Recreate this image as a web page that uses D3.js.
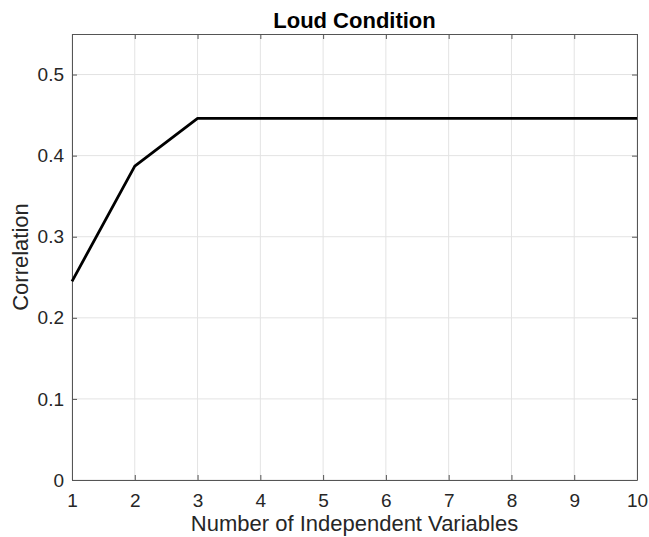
<!DOCTYPE html>
<html>
<head>
<meta charset="utf-8">
<script src="https://cdn.jsdelivr.net/npm/d3@7"></script>
<style>
  body { margin: 0; background: #fff; }
  text { font-family: "Liberation Sans", Arial, sans-serif; }
</style>
</head>
<body>
<svg width="649" height="537"></svg>
<script>
// data
const numVars = [1, 2, 3, 4, 5, 6, 7, 8, 9, 10];
const correlation = [0.245, 0.387, 0.446, 0.446, 0.446, 0.446, 0.446, 0.446, 0.446, 0.446];
const xTicks = [1, 2, 3, 4, 5, 6, 7, 8, 9, 10];
const yTicks = [0, 0.1, 0.2, 0.3, 0.4, 0.5];

const margin = { left: 72, right: 12, top: 34, bottom: 57 };
const width = 649, height = 537;

const svg = d3.select('svg');

const x = d3.scaleLinear().domain([1, 10]).range([margin.left, width - margin.right]);
const y = d3.scaleLinear().domain([0, 0.55]).range([height - margin.bottom, margin.top]);

// grid
svg.append('g')
    .selectAll('line.vx')
    .data(xTicks)
    .join('line')
    .attr('x1', d => x(d)).attr('x2', d => x(d))
    .attr('y1', y(0)).attr('y2', y(0.55))
    .attr('stroke', '#e3e3e3').attr('stroke-width', 1);
svg.append('g')
    .selectAll('line.hy')
    .data(yTicks)
    .join('line')
    .attr('y1', d => y(d)).attr('y2', d => y(d))
    .attr('x1', x(1)).attr('x2', x(10))
    .attr('stroke', '#e3e3e3').attr('stroke-width', 1);

// axes (ticks pointing inward, like matlab)
const axisColor = '#555';
const xAxis = svg.append('g')
    .attr('transform', `translate(0,${y(0)})`)
    .call(d3.axisBottom(x).tickValues(xTicks).tickSizeInner(-5).tickSizeOuter(0).tickPadding(14));
const yAxis = svg.append('g')
    .attr('transform', `translate(${x(1)},0)`)
    .call(d3.axisLeft(y).tickValues(yTicks).tickFormat(d => d === 0 ? '0' : d3.format('.1f')(d))
        .tickSizeInner(-5).tickSizeOuter(0).tickPadding(8));
const xTop = svg.append('g')
    .attr('transform', `translate(0,${y(0.55)})`)
    .call(d3.axisTop(x).tickValues(xTicks).tickSizeInner(-5).tickSizeOuter(0).tickFormat(''));
const yRight = svg.append('g')
    .attr('transform', `translate(${x(10)},0)`)
    .call(d3.axisRight(y).tickValues(yTicks).tickSizeInner(-5).tickSizeOuter(0).tickFormat(''));

[xAxis, yAxis, xTop, yRight].forEach(g => {
    g.selectAll('path, line').attr('stroke', axisColor);
    g.selectAll('text').attr('fill', '#262626').style('font-size', '19px')
        .style('font-family', '"Liberation Sans", Arial, sans-serif');
});

// line
const line = d3.line()
    .x((d, i) => x(numVars[i]))
    .y(d => y(d));
svg.append('path')
    .datum(correlation)
    .attr('d', line)
    .attr('fill', 'none')
    .attr('stroke', '#000')
    .attr('stroke-width', 2.8)
    .attr('stroke-linejoin', 'round');

// title and labels
svg.append('text')
    .attr('x', (x(1) + x(10)) / 2).attr('y', 28)
    .attr('text-anchor', 'middle')
    .style('font-size', '22px').style('font-weight', 'bold')
    .attr('fill', '#000')
    .text('Loud Condition');
svg.append('text')
    .attr('x', (x(1) + x(10)) / 2).attr('y', 531)
    .attr('text-anchor', 'middle')
    .style('font-size', '22px')
    .attr('fill', '#262626')
    .text('Number of Independent Variables');
svg.append('text')
    .attr('transform', `translate(28,${(y(0) + y(0.55)) / 2}) rotate(-90)`)
    .attr('text-anchor', 'middle')
    .style('font-size', '22px')
    .attr('fill', '#262626')
    .text('Correlation');
</script>
</body>
</html>
